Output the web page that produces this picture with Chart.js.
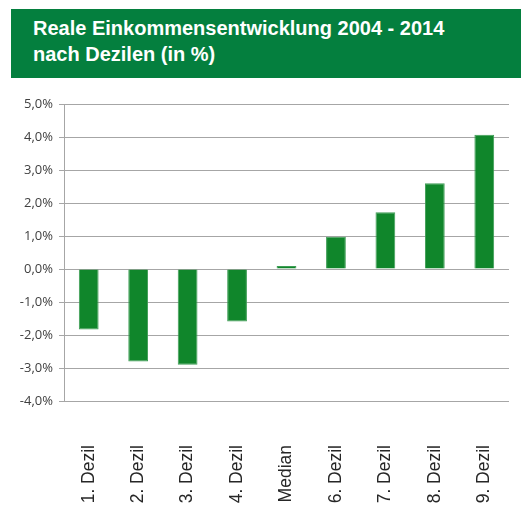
<!DOCTYPE html>
<html>
<head>
<meta charset="utf-8">
<script src="https://cdn.jsdelivr.net/npm/chart.js@4"></script>
<style>
  body { margin:0; background:#fff; }
  #wrap { position:relative; width:528px; height:523px; }
  #kopf {
    position:absolute; left:11px; top:9px; width:510px; height:69px;
    background:#047f3e; color:#fff; box-sizing:border-box; padding:6px 0 0 22px;
    font-family:"Liberation Sans", Arial, sans-serif; font-weight:bold; font-size:20px;
    line-height:26px;
  }
  canvas { position:absolute; left:0; top:0; }
</style>
</head>
<body>
<div id="wrap">
  <canvas id="grafico" width="528" height="523"></canvas>
  <div id="kopf">Reale Einkommensentwicklung 2004 - 2014<br>nach Dezilen (in %)</div>
</div>
<script>
const kategorien = ['1. Dezil','2. Dezil','3. Dezil','4. Dezil','Median','6. Dezil','7. Dezil','8. Dezil','9. Dezil'];
const werte = [-1.83, -2.8, -2.9, -1.59, 0.09, 0.98, 1.72, 2.6, 4.07];
const yMin = -4, yMax = 5, yStep = 1;

const ctx = document.getElementById("grafico").getContext('2d');
new Chart(ctx, {
  type: 'bar',
  data: {
    labels: kategorien,
    datasets: [{
      data: werte,
      backgroundColor: '#10862b',
      borderColor: '#3e9d55',
      borderWidth: 1,
      barPercentage: 0.4,
      categoryPercentage: 1
    }]
  },
  options: {
    responsive: false,
    animation: false,
    layout: { padding: { top: 104, right: 19, left: 0, bottom: 0 } },
    plugins: { legend: { display: false }, tooltip: { enabled: false } },
    scales: {
      x: {
        grid: { display: false, drawTicks: false },
        border: { display: false },
        ticks: {
          minRotation: 90, maxRotation: 90, padding: 44,
          color: '#262626',
          font: { family: '"Liberation Sans", Arial, sans-serif', size: 17.5 }
        },
        afterFit: function(s){ s.height = 122; s.paddingLeft = 0; s.paddingRight = 0; }
      },
      y: {
        min: yMin, max: yMax,
        grid: { color: '#a6a6a6', tickLength: 5, lineWidth: 1 },
        border: { color: '#a6a6a6' },
        ticks: {
          stepSize: yStep, padding: 6, color: '#404040',
          font: { family: '"Open Sans", sans-serif', size: 13 },
          callback: v => v.toFixed(1).replace('.', ',') + '%'
        },
        afterFit: function(s){ s.width = 64; }
      }
    }
  }
});
</script>
</body>
</html>
